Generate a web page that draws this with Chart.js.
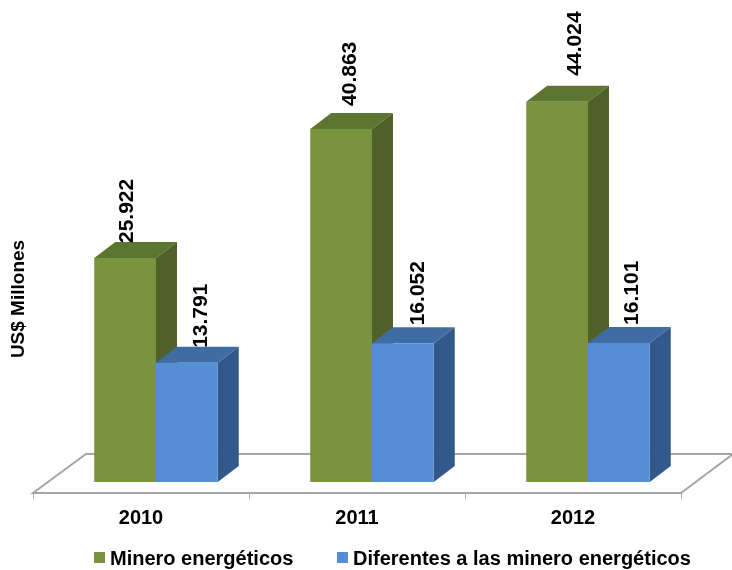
<!DOCTYPE html>
<html>
<head>
<meta charset="utf-8">
<script src="https://cdn.jsdelivr.net/npm/chart.js@4/dist/chart.umd.min.js"></script>
<style>
  html, body { margin: 0; padding: 0; background: #fff; }
  #wrap { width: 732px; height: 570px; }
</style>
</head>
<body>
<div id="wrap"><canvas id="chartExportaciones"></canvas></div>
<script>
const anios = ["2010", "2011", "2012"];
const mineroEnergeticos = [25922, 40863, 44024];
const diferentes = [13791, 16052, 16101];
const nombresSeries = ["Minero energéticos", "Diferentes a las minero energéticos"];
const tituloEje = "US$ Millones";

const FUENTE = "'Liberation Sans', Arial, sans-serif";

// colores de cara frontal, superior y lateral de cada serie
const caras = [
  { frente: "#7a943e", arriba: "#5c7530", lado: "#4f6128" },
  { frente: "#558ed5", arriba: "#3f6ca3", lado: "#33598a" }
];

// profundidad del efecto 3D
const fondoX = 21;
const fondoY = 16;

// ajuste de cada etiqueta respecto al centro de su barra { dx, dy }
const ajusteEtiquetas = [
  [{ dx: 2, dy: -15 }, { dx: 9, dy: -23 }, { dx: 18, dy: -26 }],
  [{ dx: 14, dy: -15 }, { dx: 15, dy: -18 }, { dx: 13, dy: -18 }]
];

// posicion de la leyenda: inicio del cuadro de cada serie
const leyendaX = [94, 337];
const leyendaY = 558;

function cara(ctx, puntos, color) {
  ctx.fillStyle = color;
  ctx.beginPath();
  puntos.forEach((p, i) => i ? ctx.lineTo(p[0], p[1]) : ctx.moveTo(p[0], p[1]));
  ctx.closePath();
  ctx.fill();
}

const efecto3d = {
  id: "efecto3d",
  beforeDatasetsDraw(chart) {
    const ctx = chart.ctx;
    const x = chart.scales.x;
    const piso = chart.scales.y.getPixelForValue(0);

    // piso de la grafica
    const izq = x.left - 15;
    const der = x.right - 15;
    const frente = piso + 11;
    ctx.save();
    ctx.strokeStyle = "#a6a6a6";
    ctx.lineWidth = 2;
    ctx.beginPath();
    ctx.moveTo(izq, frente);
    ctx.lineTo(izq + 53, frente - 39);
    ctx.lineTo(der + 52, frente - 39);
    ctx.lineTo(der, frente);
    ctx.closePath();
    ctx.stroke();
    ctx.lineWidth = 1;
    ctx.beginPath();
    for (let i = 0; i <= anios.length; i++) {
      const px = Math.round(izq + i * (der - izq) / anios.length) + 0.5;
      ctx.moveTo(px, frente);
      ctx.lineTo(px, frente + 6);
    }
    ctx.stroke();

    // caras superior y lateral, de izquierda a derecha
    anios.forEach((_, i) => {
      chart.data.datasets.forEach((ds, d) => {
        const b = chart.getDatasetMeta(d).data[i];
        const l = b.x - b.width / 2;
        const r = b.x + b.width / 2;
        cara(ctx, [[l, b.y], [l + fondoX, b.y - fondoY], [r + fondoX, b.y - fondoY], [r, b.y]], caras[d].arriba);
        cara(ctx, [[r, b.y], [r + fondoX, b.y - fondoY], [r + fondoX, piso - fondoY], [r, piso]], caras[d].lado);
      });
    });
    ctx.restore();
  },
  afterDatasetsDraw(chart) {
    const ctx = chart.ctx;
    ctx.save();
    ctx.fillStyle = "#000";
    ctx.font = "bold 21px " + FUENTE;
    ctx.textBaseline = "middle";
    ctx.textAlign = "left";
    chart.data.datasets.forEach((ds, d) => {
      chart.getDatasetMeta(d).data.forEach((b, i) => {
        const texto = ds.data[i].toLocaleString("es-CO").replace(",", ".");
        const a = ajusteEtiquetas[d][i];
        ctx.save();
        ctx.translate(b.x + a.dx, b.y + a.dy);
        ctx.rotate(-Math.PI / 2);
        ctx.fillText(texto, 0, 0);
        ctx.restore();
      });
    });

    // leyenda
    ctx.font = "bold 20px " + FUENTE;
    nombresSeries.forEach((nombre, d) => {
      ctx.fillStyle = caras[d].frente;
      ctx.fillRect(leyendaX[d], leyendaY - 6, 11, 11);
      ctx.fillStyle = "#000";
      ctx.fillText(nombre, leyendaX[d] + 16, leyendaY + 1);
    });

    // titulo del eje vertical
    ctx.font = "bold 19px " + FUENTE;
    ctx.textAlign = "center";
    ctx.translate(19, 299);
    ctx.rotate(-Math.PI / 2);
    ctx.fillText(tituloEje, 0, 0);
    ctx.restore();
  }
};

new Chart(document.getElementById("chartExportaciones"), {
  type: "bar",
  data: {
    labels: anios,
    datasets: [
      { label: nombresSeries[0], data: mineroEnergeticos, backgroundColor: caras[0].frente },
      { label: nombresSeries[1], data: diferentes, backgroundColor: caras[1].frente }
    ]
  },
  options: {
    responsive: true,
    maintainAspectRatio: false,
    animation: false,
    categoryPercentage: 0.572,
    barPercentage: 1,
    layout: { padding: { left: 48, right: 36, top: 50, bottom: 0 } },
    scales: {
      x: {
        grid: { display: false },
        border: { display: false },
        ticks: {
          color: "#000",
          font: { family: FUENTE, size: 20, weight: "bold" },
          labelOffset: -15,
          padding: 16,
          maxRotation: 0
        },
        afterFit(scale) { scale.height = 88; }
      },
      y: { display: false, min: 0, max: 50000 }
    },
    plugins: {
      tooltip: { enabled: false },
      legend: { display: false }
    }
  },
  plugins: [efecto3d]
});
</script>
</body>
</html>
